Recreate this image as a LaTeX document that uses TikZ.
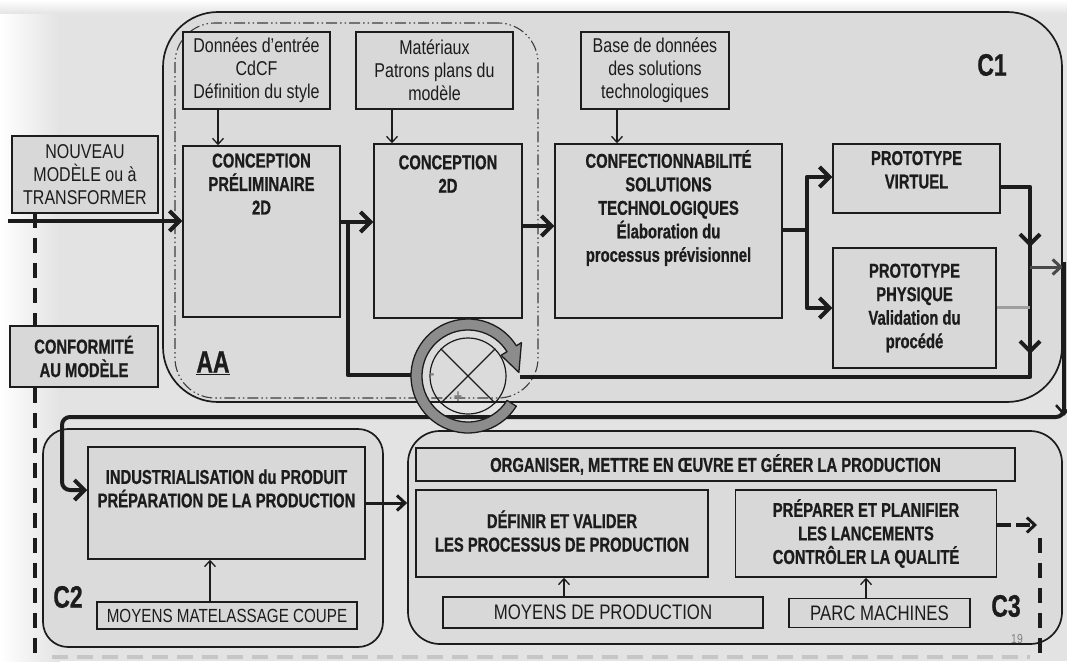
\documentclass[tikz,border=0pt]{standalone}
\usepackage{fontspec}
\setmainfont{Liberation Sans}[FakeStretch=0.8, BoldFeatures={FakeStretch=0.74, FakeBold=0.8}]
\usetikzlibrary{arrows.meta}
\definecolor{bg}{HTML}{E3E3E3}
\definecolor{cfill}{HTML}{DBDBDB}
\definecolor{bfill}{HTML}{D8D8D8}
\definecolor{ink}{HTML}{1C1C1C}
\definecolor{ringc}{HTML}{8C8C8C}
\definecolor{faint}{HTML}{C6C6C6}
\tikzset{
  box/.style={draw=ink, line width=1.5pt, fill=bfill, inner sep=0pt, align=center, text=ink},
  nt/.style={font=\fontsize{20}{23}\selectfont},
  bt/.style={font=\bfseries\fontsize{20}{23.5}\selectfont},
  lbl/.style={text=ink, align=center, inner sep=0pt},
  big/.style={font=\bfseries\fontsize{31}{31}\selectfont, text=ink, inner sep=0pt},
  flow/.style={draw=ink, line width=4.5pt},
  bigtip/.style={-{Straight Barb[length=10pt,width=20pt,line width=4pt]}},
  midtip/.style={-{Straight Barb[length=8pt,width=15pt,line width=3pt]}},
  smalltip/.style={-{Straight Barb[length=6pt,width=11pt,line width=1.3pt]}},
  thin/.style={draw=ink, line width=1.3pt},
  cont/.style={draw=ink, line width=1.7pt, fill=cfill, inner sep=0pt},
  ddash/.style={draw=ink!85, line width=1.1pt, dash pattern=on 11pt off 3pt on 1.5pt off 3pt on 1.5pt off 3pt, inner sep=0pt},
  fb/.style={draw=ink, line width=4pt, dash pattern=on 15pt off 10pt},
}
\begin{document}
\begin{tikzpicture}[x=1pt,y=-1pt]
\useasboundingbox (0,0) rectangle (1067,661);
\fill[bg] (0,0) rectangle (1067,661);
\shade[left color=white, right color=bg] (0,0) rectangle (60,661);
\shade[top color=white, bottom color=bg] (0,0) rectangle (1067,14);

% containers
\node[cont, rounded corners=55pt, minimum width=899pt, minimum height=390pt] (C1) at (612.5,207) {};
\node[ddash, rounded corners=40pt, minimum width=363pt, minimum height=375pt] (AAr) at (356.5,210.5) {};
\node[cont, rounded corners=25pt, minimum width=340pt, minimum height=218pt] (C2) at (213,538) {};
\node[cont, rounded corners=32pt, minimum width=654pt, minimum height=213pt] (C3) at (735,537.5) {};

% C1 boxes
\node[box, nt, minimum width=147pt, minimum height=77pt] (din) at (256.5,70.5) {Données d’entrée\\CdCF\\Définition du style};
\node[box, nt, minimum width=157pt, minimum height=77pt] (mat) at (434.5,70.5) {Matériaux\\Patrons plans du\\modèle};
\node[box, nt, minimum width=148pt, minimum height=77pt] (bdd) at (655,70.5) {Base de données\\des solutions\\technologiques};
\node[box, minimum width=157pt, minimum height=171pt] (cp) at (261.5,231.5) {};
\node[lbl, bt] (cpt) at (261.5,184) {CONCEPTION\\PRÉLIMINAIRE\\2D};
\node[box, minimum width=148pt, minimum height=174pt] (c2d) at (448,231) {};
\node[lbl, bt] (c2dt) at (448,174) {CONCEPTION\\2D};
\node[box, minimum width=227pt, minimum height=174pt] (conf) at (668.5,231) {};
\node[lbl, bt] (conft) at (668.5,208) {CONFECTIONNABILITÉ\\SOLUTIONS\\TECHNOLOGIQUES\\Élaboration du\\processus prévisionnel};
\node[box, bt, minimum width=167pt, minimum height=69pt] (pv) at (916.5,178.5) {PROTOTYPE\\VIRTUEL\\[-6pt]};
\node[box, bt, minimum width=163pt, minimum height=120pt] (pp) at (914.5,308) {PROTOTYPE\\PHYSIQUE\\Validation du\\procédé};

% outside C1
\node[box, nt, minimum width=146pt, minimum height=77pt] (nm) at (85,174.5) {NOUVEAU\\MODÈLE ou à\\TRANSFORMER};
\node[box, bt, minimum width=148pt, minimum height=61pt] (cm) at (84,356.5) {CONFORMITÉ\\AU MODÈLE};

% labels
\node[big] (lC1) at (992,65) {C1};
\node[big] (lAA) at (213,363) {\underline{AA}};
\node[big] (lC2) at (68,597) {C2};
\node[big] (lC3) at (1006,606) {C3};
\node[text=gray, font=\fontsize{13}{13}\selectfont, inner sep=0pt] (pg) at (1017,639) {19};

% C2 boxes
\node[box, minimum width=277pt, minimum height=112pt] (ind) at (226.5,503) {};
\node[lbl, bt] (indt) at (226.5,488.5) {INDUSTRIALISATION du PRODUIT\\PRÉPARATION DE LA PRODUCTION};
\node[box, nt, font=\fontsize{19}{23}\selectfont, minimum width=260pt, minimum height=27pt] (mmc) at (227,615.5) {MOYENS MATELASSAGE COUPE};

% C3 boxes
\node[box, bt, minimum width=599pt, minimum height=33pt] (org) at (715.5,464.5) {ORGANISER, METTRE EN ŒUVRE ET GÉRER LA PRODUCTION};
\node[box, minimum width=292pt, minimum height=87pt] (def) at (562,533.5) {};
\node[lbl, bt] (deft) at (562,531) {DÉFINIR ET VALIDER\\LES PROCESSUS DE PRODUCTION};
\node[box, bt, minimum width=261pt, minimum height=87pt] (prep) at (866,533.5) {PRÉPARER ET PLANIFIER\\LES LANCEMENTS\\CONTRÔLER LA QUALITÉ};
\node[box, nt, font=\fontsize{21}{23}\selectfont, minimum width=320pt, minimum height=31pt] (mdp) at (603,612.5) {MOYENS DE PRODUCTION};
\node[box, nt, font=\fontsize{21}{23}\selectfont, minimum width=181pt, minimum height=29pt] (parc) at (879.5,613) {PARC MACHINES};

% thin input arrows
\draw[thin, smalltip] (din.south -| 218,0) -- (cp.north -| 218,0);
\draw[thin, smalltip] (mat.south -| 392,0) -- (c2d.north -| 392,0);
\draw[thin, smalltip] (bdd.south -| 617,0) -- (conf.north -| 617,0);
\draw[thin, smalltip] (mmc.north -| 210,0) -- (ind.south -| 210,0);
\draw[thin, smalltip] (mdp.north -| 564,0) -- (def.south -| 564,0);
\draw[thin, smalltip] (parc.north -| 866,0) -- (prep.south -| 866,0);

% coordinates
\coordinate (start) at (8,221);
\coordinate (ringL) at (414,375);
\coordinate (ringR) at (520,377);
\coordinate (split) at (807,230);
\coordinate (jv) at (1030,187);
\coordinate (jb) at (1030,377);
\coordinate (out) at (1064,262);

% main thick flows
\draw[flow, bigtip] (start) -- (cp.west |- start);
\draw[flow, bigtip] (cp.east |- 0,222) -- (c2d.west |- 0,222);
\draw[flow, bigtip] (c2d.east |- 0,226) -- (conf.west |- 0,226);
\draw[flow, line join=round] (348,222) -- (348,375) -- (ringL);
\draw[flow] (conf.east |- split) -- (split);
\draw[flow, bigtip, line join=round] (split) |- (pv.west |- 0,177);
\draw[flow, bigtip, line join=round] (split) |- (pp.west |- 0,308);
\draw[flow, line join=round] (pv.east |- jv) -- (jv) -- (jb) -- (ringR);
\draw[flow, bigtip] (1030,222) -- (1030,247);
\draw[flow, bigtip] (1030,330) -- (1030,354);
\draw[draw=gray!75, line width=3pt] (pp.east |- 0,307) -- (1030,307);
\draw[draw=ink!80, line width=3pt, midtip] (1030,267) -- (C1.east |- 0,267);
\draw[flow, line width=4pt, rounded corners=8pt, bigtip] (out) -- (1064,417) -- (62,417) -- (62,490) -- (ind.west |- 0,490);
\draw[draw=ink, line width=2.5pt, -{Straight Barb[length=9pt,width=16pt,line width=2.5pt]}] (1064,395) -- (1064,416);
\draw[draw=ink, line width=3pt, midtip] (ind.east |- 0,503) -- (C3.west |- 0,503);

% feedback dashed
\draw[draw=ink, line width=4pt, dash pattern=on 14pt off 5pt, midtip] (prep.east |- 0,525) -- (1037,525);
\draw[fb] (1040,538) -- (1040,661);
\draw[draw=faint, line width=4pt, dash pattern=on 16pt off 9pt] (52,657) -- (1030,657);
\draw[fb] (35,213) -- (cm.north -| 35,0);
\draw[fb] (cm.south -| 35,0) -- (35,661);

% comparator
\node[draw=ink, circle, line width=1.2pt, minimum size=76pt, inner sep=0pt] (cmp) at (468,376) {};
\draw[ink, line width=1.1pt] (cmp.45) -- (cmp.225);
\draw[ink, line width=1.1pt] (cmp.135) -- (cmp.315);
\begin{scope}[shift={(468,376)}]
\draw[draw=ink, line width=1.3pt, fill=ringc, line join=round] (32:57) arc[start angle=32, end angle=328, radius=57] -- (328:63) -- (356:51) -- (328:39) -- (328:46) arc[start angle=328, end angle=32, radius=46] -- cycle;
\end{scope}
\node[text=gray, font=\bfseries\fontsize{16}{16}\selectfont, inner sep=0pt] (minus) at (432,376) {-};
\node[text=gray, font=\bfseries\fontsize{18}{18}\selectfont, inner sep=0pt] (plus) at (458,397) {+};
\end{tikzpicture}
\end{document}
